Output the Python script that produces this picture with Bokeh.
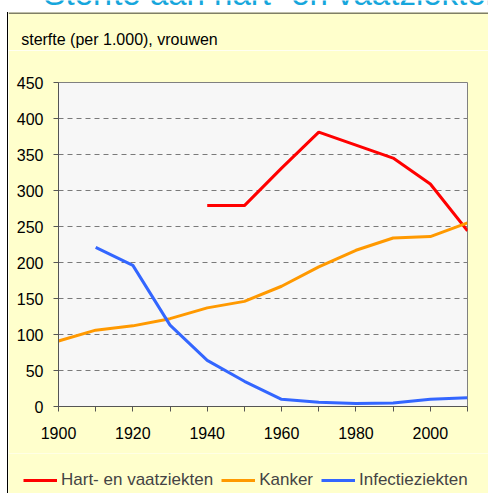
from bokeh.plotting import figure
from bokeh.layouts import column, row
from bokeh.models import Range1d, FixedTicker, Legend, LegendItem, Spacer, Span
from bokeh.core.properties import value
from bokeh.embed import file_html
from bokeh.resources import INLINE

# ---- data ----
title_text = "Sterfte aan hart- en vaatziekten"
header_text = "sterfte (per 1.000), vrouwen"

hart_years = [1940, 1950, 1960, 1970, 1980, 1990, 2000, 2010]
hart_values = [279, 279, 331, 381, 363, 345, 309, 244]

kanker_years = [1900, 1910, 1920, 1930, 1940, 1950, 1960, 1970, 1980, 1990, 2000, 2010]
kanker_values = [91, 106, 112, 122, 137, 146, 167, 194, 217, 234, 236, 255]

infectie_years = [1910, 1920, 1930, 1940, 1950, 1960, 1970, 1980, 1990, 2000, 2010]
infectie_values = [221, 196, 113, 64, 35, 10, 6, 4, 5, 10, 12]

series_names = ["Hart- en vaatziekten", "Kanker", "Infectieziekten"]
series_colors = ["#FF0000", "#FF9900", "#3366FF"]

x_ticks = list(range(1900, 2011, 10))
x_labelled = [1900, 1920, 1940, 1960, 1980, 2000]
y_ticks = list(range(0, 451, 50))

FONT = "Liberation Sans"
YELLOW = "#FFFFCC"
EDGE = {"background": "linear-gradient(to right, #FFFFFF 7px, #000000 7px)"}


def strip(width, height, bg):
    f = figure(width=width, height=height, output_backend="svg", toolbar_location=None,
               x_range=Range1d(0, width), y_range=Range1d(0, height),
               x_axis_location=None, y_axis_location=None, min_border=0)
    f.grid.visible = False
    f.outline_line_color = None
    f.background_fill_color = bg
    f.border_fill_color = bg
    return f


def edge(height):
    return Spacer(width=8, height=height, styles=EDGE)


# ---- slide title strip (text cut off at the top, as in the reference) ----
t = strip(488, 12, "#FFFFFF")
t.text(x=[43], y=[0.5], text=[title_text], text_font=value(FONT),
       text_font_size="33px", text_color="#16A6DC", text_baseline="bottom")

# ---- header strip ----
hd = strip(480, 38, YELLOW)
hd.add_layout(Span(location=37.5, dimension="width", line_color="#000000", line_width=1))
hd.text(x=[12.7], y=[11.5], text=[header_text], text_font=value(FONT),
        text_font_size="16px", text_color="#000000", text_baseline="alphabetic")

# ---- main chart ----
p = figure(width=480, height=403, output_backend="svg", toolbar_location=None,
           x_range=Range1d(1900, 2010), y_range=Range1d(0, 450),
           min_border_left=50, min_border_right=21,
           min_border_top=32, min_border_bottom=47)
p.background_fill_color = "#F7F7F7"
p.border_fill_color = YELLOW
p.outline_line_color = "#808080"
p.outline_line_width = 1

p.xaxis.ticker = FixedTicker(ticks=x_ticks)
p.xaxis.major_label_overrides = {t_: ("" if t_ not in x_labelled else str(t_)) for t_ in x_ticks}
p.yaxis.ticker = FixedTicker(ticks=y_ticks)
for ax in (p.xaxis, p.yaxis):
    ax.axis_line_color = "#555555"
    ax.major_tick_line_color = "#555555"
    ax.major_tick_out = 5
    ax.major_tick_in = 0
    ax.minor_tick_line_color = None
    ax.major_label_text_font = FONT
    ax.major_label_text_font_size = "16px"
    ax.major_label_text_color = "#000000"
p.xaxis.major_label_standoff = 15
p.yaxis.major_label_standoff = 10

p.xgrid.grid_line_color = None
p.ygrid.grid_line_color = "#7A7A7A"
p.ygrid.grid_line_dash = "5 4"
p.ygrid.grid_line_width = 1

p.line(hart_years, hart_values, line_color=series_colors[0], line_width=3)
p.line(kanker_years, kanker_values, line_color=series_colors[1], line_width=3)
p.line(infectie_years, infectie_values, line_color=series_colors[2], line_width=3)

# ---- legend strip (same series; lines fall outside this strip's ranges) ----
lg = figure(width=480, height=40, output_backend="svg", toolbar_location=None,
            x_range=Range1d(0, 1), y_range=Range1d(0, 1),
            x_axis_location=None, y_axis_location=None, min_border=0)
lg.grid.visible = False
lg.outline_line_color = None
lg.background_fill_color = YELLOW
lg.border_fill_color = YELLOW
l1 = lg.line(hart_years, hart_values, line_color=series_colors[0], line_width=3)
l2 = lg.line(kanker_years, kanker_values, line_color=series_colors[1], line_width=3)
l3 = lg.line(infectie_years, infectie_values, line_color=series_colors[2], line_width=3)

legend = Legend(items=[LegendItem(label=series_names[0], renderers=[l1]),
                       LegendItem(label=series_names[1], renderers=[l2]),
                       LegendItem(label=series_names[2], renderers=[l3])],
                orientation="horizontal", location=(15, 3),
                margin=0, padding=0, spacing=8, label_standoff=4,
                glyph_width=34, glyph_height=16, label_height=16,
                label_text_font=FONT, label_text_font_size="17px",
                background_fill_alpha=0, border_line_alpha=0)
lg.add_layout(legend, "center")

layout = column(t,
                row(edge(38), hd),
                row(edge(403), p),
                row(edge(40), lg))

open("out.html", "w").write(file_html(layout, INLINE))
